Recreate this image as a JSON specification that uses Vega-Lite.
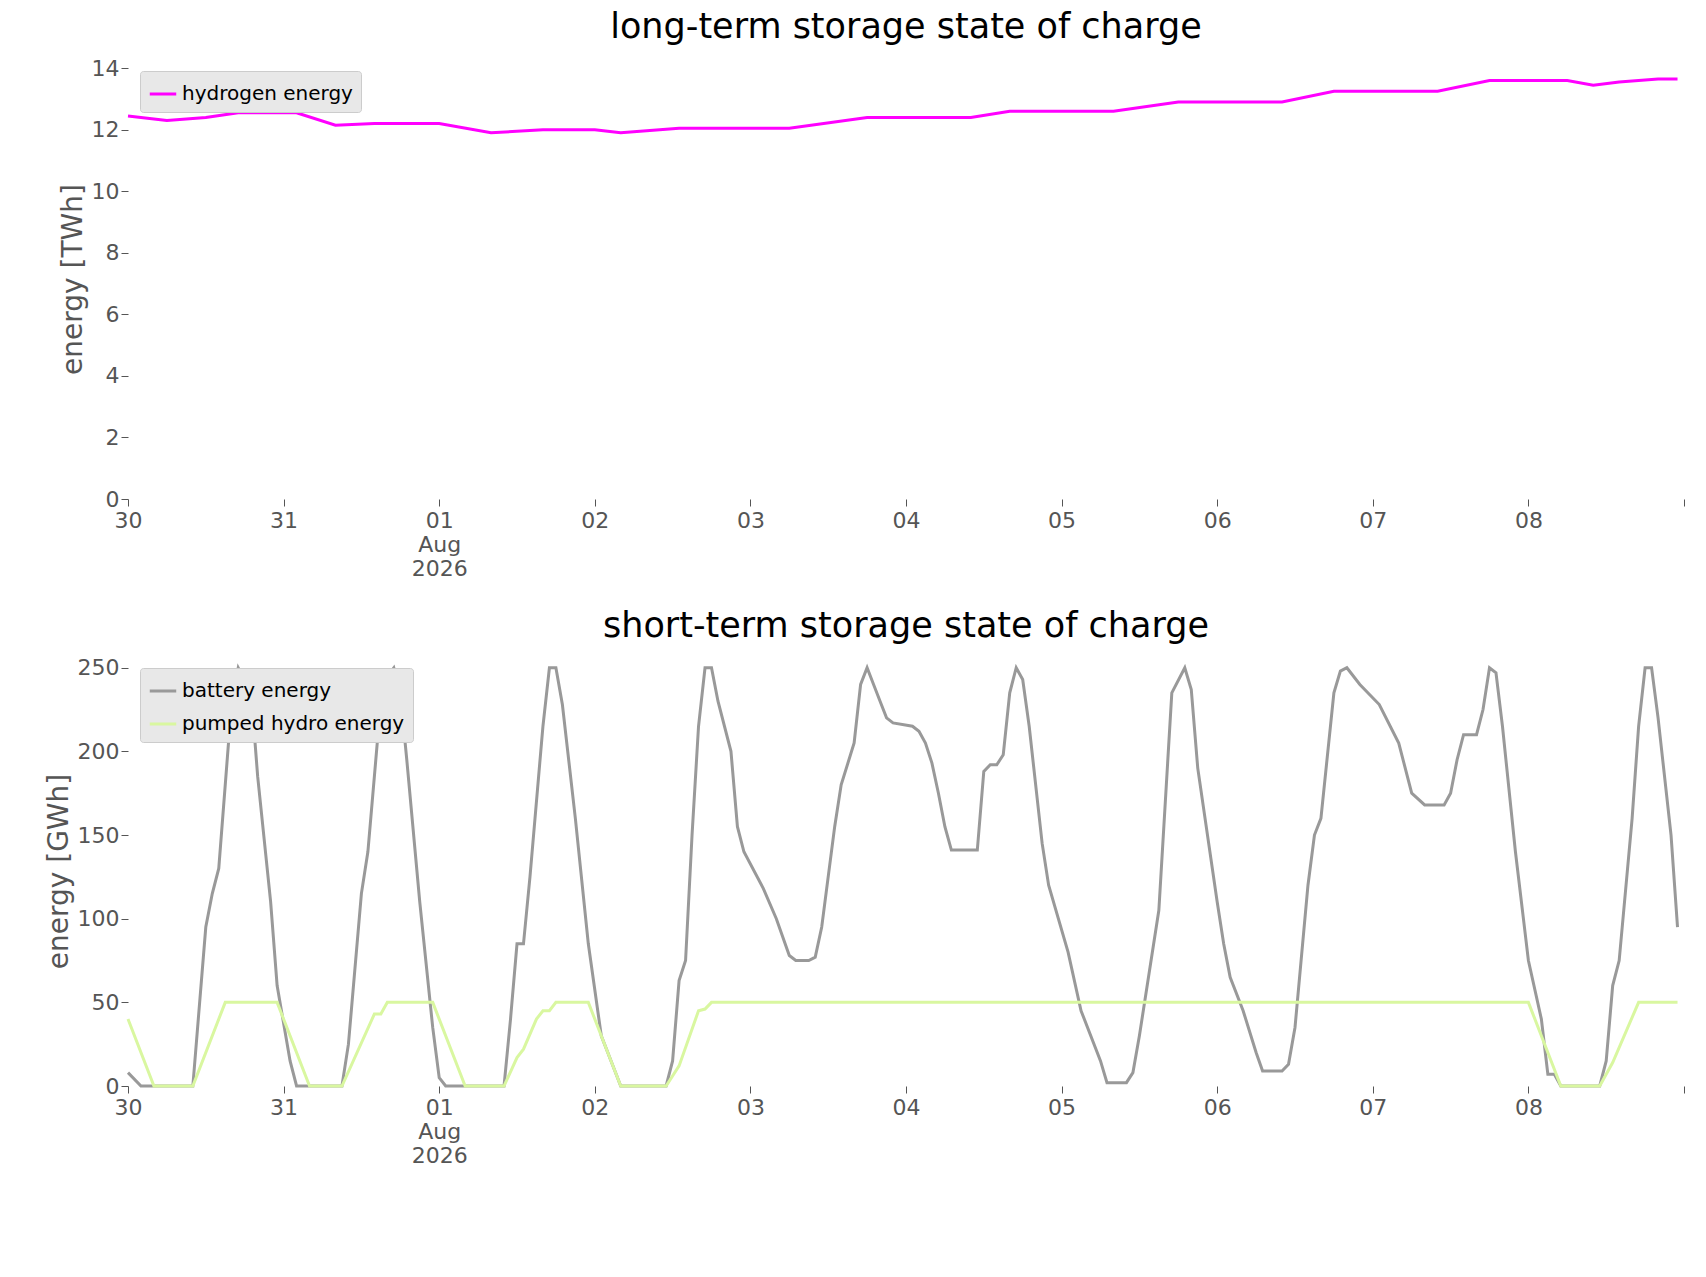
{
"$schema":"https://vega.github.io/schema/vega-lite/6.json",
"background":"white",
"padding":{"left":45,"top":10,"right":25,"bottom":5},
"spacing":30,
"config":{"font":"DejaVu Sans","view":{"stroke":null},
"axis":{"grid":false,"domain":false,"labelFont":"DejaVu Sans","titleFont":"DejaVu Sans","labelColor":"#555555","titleColor":"#555555","tickColor":"#555555","labelFontSize":22,"titleFontSize":28,"titleFontWeight":"normal","tickSize":7},
"title":{"fontSize":35,"font":"DejaVu Sans","fontWeight":"normal","offset":12},
"legend":{"orient":"top-left","fillColor":"#e8e8e8","strokeColor":"#cccccc","padding":8,"labelFontSize":20,"labelLimit":0,"labelFont":"DejaVu Sans","symbolType":"stroke","symbolSize":700,"symbolStrokeWidth":3,"cornerRadius":3,"offset":12,"title":null,"rowPadding":8}},
"datasets":{
"h2":[
{"t":"2026-07-30T00:00:00","v":12.45,"s":"hydrogen energy"},{"t":"2026-07-30T06:00:00","v":12.3,"s":"hydrogen energy"},{"t":"2026-07-30T12:00:00","v":12.4,"s":"hydrogen energy"},{"t":"2026-07-30T17:00:00","v":12.55,"s":"hydrogen energy"},{"t":"2026-07-31T02:00:00","v":12.55,"s":"hydrogen energy"},{"t":"2026-07-31T08:00:00","v":12.15,"s":"hydrogen energy"},{"t":"2026-07-31T14:00:00","v":12.2,"s":"hydrogen energy"},{"t":"2026-08-01T00:00:00","v":12.2,"s":"hydrogen energy"},{"t":"2026-08-01T08:00:00","v":11.9,"s":"hydrogen energy"},{"t":"2026-08-01T16:00:00","v":12.0,"s":"hydrogen energy"},{"t":"2026-08-02T00:00:00","v":12.0,"s":"hydrogen energy"},{"t":"2026-08-02T04:00:00","v":11.9,"s":"hydrogen energy"},{"t":"2026-08-02T13:00:00","v":12.05,"s":"hydrogen energy"},{"t":"2026-08-03T06:00:00","v":12.05,"s":"hydrogen energy"},{"t":"2026-08-03T18:00:00","v":12.4,"s":"hydrogen energy"},{"t":"2026-08-04T10:00:00","v":12.4,"s":"hydrogen energy"},{"t":"2026-08-04T16:00:00","v":12.6,"s":"hydrogen energy"},{"t":"2026-08-05T08:00:00","v":12.6,"s":"hydrogen energy"},{"t":"2026-08-05T18:00:00","v":12.9,"s":"hydrogen energy"},{"t":"2026-08-06T10:00:00","v":12.9,"s":"hydrogen energy"},{"t":"2026-08-06T18:00:00","v":13.25,"s":"hydrogen energy"},{"t":"2026-08-07T10:00:00","v":13.25,"s":"hydrogen energy"},{"t":"2026-08-07T18:00:00","v":13.6,"s":"hydrogen energy"},{"t":"2026-08-08T06:00:00","v":13.6,"s":"hydrogen energy"},{"t":"2026-08-08T10:00:00","v":13.45,"s":"hydrogen energy"},{"t":"2026-08-08T14:00:00","v":13.55,"s":"hydrogen energy"},{"t":"2026-08-08T20:00:00","v":13.65,"s":"hydrogen energy"},{"t":"2026-08-08T23:00:00","v":13.65,"s":"hydrogen energy"}
],
"bat":[
{"t":"2026-07-30T00:00:00","v":8},{"t":"2026-07-30T02:00:00","v":0},{"t":"2026-07-30T10:00:00","v":0},{"t":"2026-07-30T12:00:00","v":95},{"t":"2026-07-30T13:00:00","v":115},{"t":"2026-07-30T14:00:00","v":130},{"t":"2026-07-30T16:00:00","v":230},{"t":"2026-07-30T17:00:00","v":250},{"t":"2026-07-30T19:00:00","v":235},{"t":"2026-07-30T20:00:00","v":185},{"t":"2026-07-30T22:00:00","v":110},{"t":"2026-07-30T23:00:00","v":60},{"t":"2026-07-31T01:00:00","v":15},{"t":"2026-07-31T02:00:00","v":0},{"t":"2026-07-31T09:00:00","v":0},{"t":"2026-07-31T10:00:00","v":25},{"t":"2026-07-31T12:00:00","v":115},{"t":"2026-07-31T13:00:00","v":140},{"t":"2026-07-31T15:00:00","v":230},{"t":"2026-07-31T16:00:00","v":245},{"t":"2026-07-31T17:00:00","v":250},{"t":"2026-07-31T18:00:00","v":235},{"t":"2026-07-31T19:00:00","v":195},{"t":"2026-07-31T21:00:00","v":110},{"t":"2026-07-31T23:00:00","v":35},{"t":"2026-08-01T00:00:00","v":5},{"t":"2026-08-01T01:00:00","v":0},{"t":"2026-08-01T10:00:00","v":0},{"t":"2026-08-01T11:00:00","v":40},{"t":"2026-08-01T12:00:00","v":85},{"t":"2026-08-01T13:00:00","v":85},{"t":"2026-08-01T14:00:00","v":125},{"t":"2026-08-01T16:00:00","v":215},{"t":"2026-08-01T17:00:00","v":250},{"t":"2026-08-01T18:00:00","v":250},{"t":"2026-08-01T19:00:00","v":228},{"t":"2026-08-01T21:00:00","v":160},{"t":"2026-08-01T23:00:00","v":85},{"t":"2026-08-02T01:00:00","v":30},{"t":"2026-08-02T02:00:00","v":20},{"t":"2026-08-02T04:00:00","v":0},{"t":"2026-08-02T11:00:00","v":0},{"t":"2026-08-02T12:00:00","v":15},{"t":"2026-08-02T13:00:00","v":63},{"t":"2026-08-02T14:00:00","v":75},{"t":"2026-08-02T15:00:00","v":150},{"t":"2026-08-02T16:00:00","v":215},{"t":"2026-08-02T17:00:00","v":250},{"t":"2026-08-02T18:00:00","v":250},{"t":"2026-08-02T19:00:00","v":230},{"t":"2026-08-02T21:00:00","v":200},{"t":"2026-08-02T22:00:00","v":155},{"t":"2026-08-02T23:00:00","v":140},{"t":"2026-08-03T02:00:00","v":118},{"t":"2026-08-03T04:00:00","v":100},{"t":"2026-08-03T06:00:00","v":78},{"t":"2026-08-03T07:00:00","v":75},{"t":"2026-08-03T09:00:00","v":75},{"t":"2026-08-03T10:00:00","v":77},{"t":"2026-08-03T11:00:00","v":95},{"t":"2026-08-03T13:00:00","v":155},{"t":"2026-08-03T14:00:00","v":180},{"t":"2026-08-03T16:00:00","v":205},{"t":"2026-08-03T17:00:00","v":240},{"t":"2026-08-03T18:00:00","v":250},{"t":"2026-08-03T19:00:00","v":240},{"t":"2026-08-03T20:00:00","v":230},{"t":"2026-08-03T21:00:00","v":220},{"t":"2026-08-03T22:00:00","v":217},{"t":"2026-08-04T01:00:00","v":215},{"t":"2026-08-04T02:00:00","v":212},{"t":"2026-08-04T03:00:00","v":205},{"t":"2026-08-04T04:00:00","v":193},{"t":"2026-08-04T05:00:00","v":175},{"t":"2026-08-04T06:00:00","v":155},{"t":"2026-08-04T07:00:00","v":141},{"t":"2026-08-04T11:00:00","v":141},{"t":"2026-08-04T12:00:00","v":188},{"t":"2026-08-04T13:00:00","v":192},{"t":"2026-08-04T14:00:00","v":192},{"t":"2026-08-04T15:00:00","v":198},{"t":"2026-08-04T16:00:00","v":235},{"t":"2026-08-04T17:00:00","v":250},{"t":"2026-08-04T18:00:00","v":243},{"t":"2026-08-04T19:00:00","v":215},{"t":"2026-08-04T21:00:00","v":145},{"t":"2026-08-04T22:00:00","v":120},{"t":"2026-08-05T01:00:00","v":80},{"t":"2026-08-05T03:00:00","v":45},{"t":"2026-08-05T06:00:00","v":15},{"t":"2026-08-05T07:00:00","v":2},{"t":"2026-08-05T10:00:00","v":2},{"t":"2026-08-05T11:00:00","v":8},{"t":"2026-08-05T12:00:00","v":30},{"t":"2026-08-05T15:00:00","v":105},{"t":"2026-08-05T17:00:00","v":235},{"t":"2026-08-05T19:00:00","v":250},{"t":"2026-08-05T20:00:00","v":237},{"t":"2026-08-05T21:00:00","v":190},{"t":"2026-08-06T00:00:00","v":110},{"t":"2026-08-06T01:00:00","v":85},{"t":"2026-08-06T02:00:00","v":65},{"t":"2026-08-06T04:00:00","v":45},{"t":"2026-08-06T06:00:00","v":20},{"t":"2026-08-06T07:00:00","v":9},{"t":"2026-08-06T10:00:00","v":9},{"t":"2026-08-06T11:00:00","v":13},{"t":"2026-08-06T12:00:00","v":35},{"t":"2026-08-06T14:00:00","v":120},{"t":"2026-08-06T15:00:00","v":150},{"t":"2026-08-06T16:00:00","v":160},{"t":"2026-08-06T18:00:00","v":235},{"t":"2026-08-06T19:00:00","v":248},{"t":"2026-08-06T20:00:00","v":250},{"t":"2026-08-06T22:00:00","v":240},{"t":"2026-08-07T01:00:00","v":228},{"t":"2026-08-07T04:00:00","v":205},{"t":"2026-08-07T06:00:00","v":175},{"t":"2026-08-07T08:00:00","v":168},{"t":"2026-08-07T11:00:00","v":168},{"t":"2026-08-07T12:00:00","v":175},{"t":"2026-08-07T13:00:00","v":195},{"t":"2026-08-07T14:00:00","v":210},{"t":"2026-08-07T16:00:00","v":210},{"t":"2026-08-07T17:00:00","v":225},{"t":"2026-08-07T18:00:00","v":250},{"t":"2026-08-07T19:00:00","v":247},{"t":"2026-08-07T20:00:00","v":215},{"t":"2026-08-07T22:00:00","v":140},{"t":"2026-08-08T00:00:00","v":75},{"t":"2026-08-08T02:00:00","v":40},{"t":"2026-08-08T03:00:00","v":7},{"t":"2026-08-08T04:00:00","v":7},{"t":"2026-08-08T05:00:00","v":0},{"t":"2026-08-08T11:00:00","v":0},{"t":"2026-08-08T12:00:00","v":15},{"t":"2026-08-08T13:00:00","v":60},{"t":"2026-08-08T14:00:00","v":75},{"t":"2026-08-08T16:00:00","v":160},{"t":"2026-08-08T17:00:00","v":215},{"t":"2026-08-08T18:00:00","v":250},{"t":"2026-08-08T19:00:00","v":250},{"t":"2026-08-08T20:00:00","v":220},{"t":"2026-08-08T22:00:00","v":150},{"t":"2026-08-08T23:00:00","v":95}
],
"phs":[
{"t":"2026-07-30T00:00:00","v":40},{"t":"2026-07-30T04:00:00","v":0},{"t":"2026-07-30T10:00:00","v":0},{"t":"2026-07-30T15:00:00","v":50},{"t":"2026-07-30T23:00:00","v":50},{"t":"2026-07-31T04:00:00","v":0},{"t":"2026-07-31T09:00:00","v":0},{"t":"2026-07-31T14:00:00","v":43},{"t":"2026-07-31T15:00:00","v":43},{"t":"2026-07-31T16:00:00","v":50},{"t":"2026-07-31T23:00:00","v":50},{"t":"2026-08-01T04:00:00","v":0},{"t":"2026-08-01T10:00:00","v":0},{"t":"2026-08-01T12:00:00","v":17},{"t":"2026-08-01T13:00:00","v":22},{"t":"2026-08-01T15:00:00","v":40},{"t":"2026-08-01T16:00:00","v":45},{"t":"2026-08-01T17:00:00","v":45},{"t":"2026-08-01T18:00:00","v":50},{"t":"2026-08-01T23:00:00","v":50},{"t":"2026-08-02T04:00:00","v":0},{"t":"2026-08-02T11:00:00","v":0},{"t":"2026-08-02T13:00:00","v":12},{"t":"2026-08-02T16:00:00","v":45},{"t":"2026-08-02T17:00:00","v":46},{"t":"2026-08-02T18:00:00","v":50},{"t":"2026-08-08T00:00:00","v":50},{"t":"2026-08-08T05:00:00","v":0},{"t":"2026-08-08T11:00:00","v":0},{"t":"2026-08-08T13:00:00","v":14},{"t":"2026-08-08T17:00:00","v":50},{"t":"2026-08-08T23:00:00","v":50}
]},
"vconcat":[
{"width":1556,"height":440,"title":"long-term storage state of charge",
"data":{"name":"h2"},
"mark":{"type":"line","strokeWidth":3},
"encoding":{
"x":{"field":"t","type":"temporal","title":null,"scale":{"domain":[{"year":2026,"month":7,"date":30},{"year":2026,"month":8,"date":9}]},"axis":{"tickCount":{"interval":"day","step":1},"labelExpr":"date(datum.value)==9 ? '' : (date(datum.value)==1 ? ['01','Aug','2026'] : timeFormat(datum.value,'%d'))","labelAlign":"center","labelPadding":4}},
"y":{"field":"v","type":"quantitative","title":"energy [TWh]","scale":{"domain":[0,14.3],"nice":false},"axis":{"values":[0,2,4,6,8,10,12,14]}},
"color":{"field":"s","type":"nominal","scale":{"domain":["hydrogen energy"],"range":["#ff00ff"]}}}},
{"width":1556,"height":430,"title":"short-term storage state of charge",
"layer":[
{"data":{"name":"bat"},"transform":[{"calculate":"'battery energy'","as":"s"}],"mark":{"type":"line","strokeWidth":3}},
{"data":{"name":"phs"},"transform":[{"calculate":"'pumped hydro energy'","as":"s"}],"mark":{"type":"line","strokeWidth":3}}
],
"encoding":{
"x":{"field":"t","type":"temporal","title":null,"scale":{"domain":[{"year":2026,"month":7,"date":30},{"year":2026,"month":8,"date":9}]},"axis":{"tickCount":{"interval":"day","step":1},"labelExpr":"date(datum.value)==9 ? '' : (date(datum.value)==1 ? ['01','Aug','2026'] : timeFormat(datum.value,'%d'))","labelAlign":"center","labelPadding":4}},
"y":{"field":"v","type":"quantitative","title":"energy [GWh]","scale":{"domain":[0,257],"nice":false},"axis":{"values":[0,50,100,150,200,250]}},
"color":{"field":"s","type":"nominal","scale":{"domain":["battery energy","pumped hydro energy"],"range":["#999999","#d9f7a0"]}}}}
],
"resolve":{"scale":{"color":"independent"}}
}
